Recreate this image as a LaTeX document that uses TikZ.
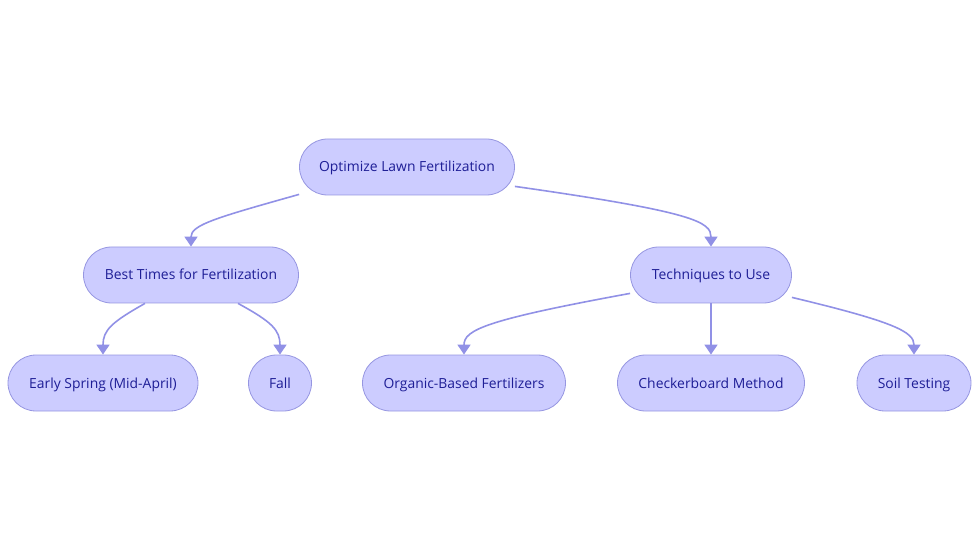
\documentclass[tikz,border=0pt]{standalone}
\usepackage{fontspec}
\setmainfont{Open Sans}
\usetikzlibrary{arrows.meta,calc}
\definecolor{nfill}{RGB}{204,204,255}
\definecolor{nline}{RGB}{150,150,225}
\definecolor{ntext}{RGB}{30,30,150}
\definecolor{eline}{RGB}{145,145,230}
\begin{document}
\begin{tikzpicture}[x=1pt,y=-1pt,
  box/.style={draw=nline,fill=nfill,line width=0.8pt,rounded corners=28pt,
    minimum height=56pt,inner sep=0pt,text=ntext,text height=11pt,text depth=1pt,
    font=\fontsize{13.9}{16}\selectfont},
  edge/.style={draw=eline,line width=1.6pt,-{Triangle[width=13pt,length=10pt]}}]
\useasboundingbox (0,0) rectangle (980,553);
\node[box,minimum width=215pt] (root) at (407,167) {Optimize Lawn Fertilization};
\node[box,minimum width=215pt] (best) at (191,275) {Best Times for Fertilization};
\node[box,minimum width=161pt] (tech) at (711,275) {Techniques to Use};
\node[box,minimum width=190pt] (early) at (103,383) {Early Spring (Mid-April)};
\node[box,minimum width=63pt] (fall) at (280,383) {Fall};
\node[box,minimum width=203pt] (org) at (464,383) {Organic-Based Fertilizers};
\node[box,minimum width=187pt] (check) at (711,383) {Checkerboard Method};
\node[box,minimum width=114pt] (soil) at (914,383) {Soil Testing};
\draw[edge] ($(root.south west)+(0,-1)$) .. controls (215,218) and (191,225) .. (best.north);
\draw[edge] ($(root.south east)+(0,-9)$) .. controls (695,212) and (711,222) .. (tech.north);
\draw[edge] ($(best.south)+(-46,0)$) .. controls (112,322) and (103,330) .. (early.north);
\draw[edge] ($(best.south)+(47,0)$) .. controls (272,322) and (280,330) .. (fall.north);
\draw[edge] ($(tech.south west)+(0,-10)$) .. controls (485,320) and (464,330) .. (org.north);
\draw[edge] (tech.south) -- (check.north);
\draw[edge] ($(tech.south east)+(0,-6)$) .. controls (895,322) and (914,332) .. (soil.north);
\end{tikzpicture}
\end{document}
